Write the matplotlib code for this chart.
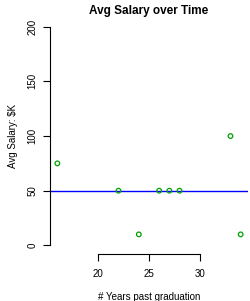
import matplotlib
matplotlib.use("Agg")
import matplotlib.pyplot as plt

# data
years = [16, 22, 24, 26, 27, 28, 33, 34]
salary = [75, 50, 10, 50, 50, 50, 100, 10]
ref_level = 50
x_ticks = [20, 25, 30]
y_ticks = [0, 50, 100, 150, 200]

plt.rcParams['font.family'] = ['Liberation Sans', 'DejaVu Sans']

fig = plt.figure(figsize=(2.5, 3.01), dpi=100)
ax = fig.add_axes([0.2, 0.156, 0.792, 0.784])

ax.scatter(years, salary, s=11, facecolors='none', edgecolors='#00A000', linewidths=0.9, zorder=3)
ax.axhline(ref_level, color='#0000FF', lw=1.0)

xpad = (max(years) - min(years)) * 0.04
ax.set_xlim(min(years) - xpad, max(years) + xpad)
ax.set_ylim(-8, 208)

for s in ['top', 'right']:
    ax.spines[s].set_visible(False)
ax.spines['bottom'].set_bounds(x_ticks[0], x_ticks[-1])
ax.spines['left'].set_bounds(y_ticks[0], y_ticks[-1])

ax.set_xticks(x_ticks)
ax.set_yticks(y_ticks)
ax.set_yticklabels([str(v) for v in y_ticks], rotation=90, va='center')
ax.tick_params(axis='both', labelsize=7, length=5, width=0.8, pad=6)
ax.tick_params(axis='y', pad=4)

ax.set_title("Avg Salary over Time", fontsize=8.5, fontweight='bold', pad=3)
ax.set_xlabel("# Years past graduation", fontsize=7, labelpad=9)
ax.set_ylabel("Avg Salary: $K", fontsize=7, labelpad=7)

fig.savefig("out.png", dpi=100)
